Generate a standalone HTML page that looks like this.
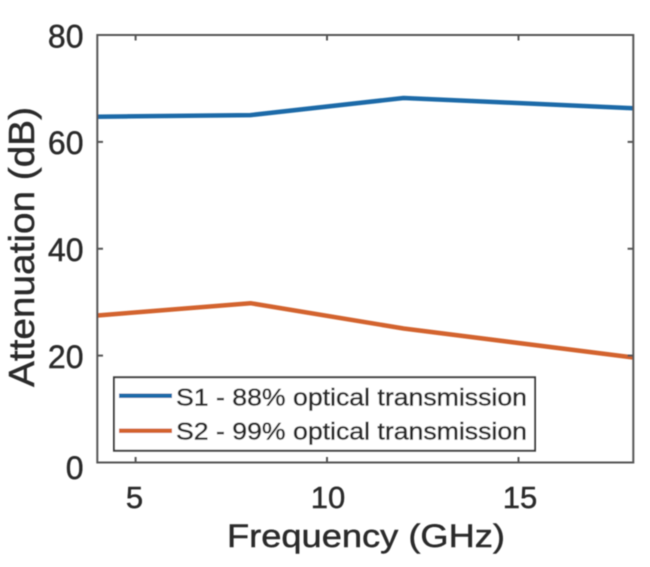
<!DOCTYPE html>
<html>
<head>
<meta charset="utf-8">
<style>
  html, body { margin: 0; padding: 0; background: #ffffff; }
  svg { display: block; }
  text { font-family: "Liberation Sans", Arial, sans-serif; fill: #2b2b2b; stroke: #2b2b2b; stroke-width: 0.45; }
</style>
</head>
<body>
<svg width="650" height="567" viewBox="0 0 650 567" xmlns="http://www.w3.org/2000/svg">
  <defs>
    <filter id="soft" x="-5%" y="-5%" width="110%" height="110%">
      <feGaussianBlur stdDeviation="0.6"/>
    </filter>
  </defs>
  <rect x="0" y="0" width="650" height="567" fill="#ffffff"/>
  <g filter="url(#soft)">
    <!-- series -->
    <polyline points="97.3,116.7 250.5,115.1 403.6,98.0 633.3,108.2" fill="none" stroke="#1f6aa8" stroke-width="4.5" stroke-linejoin="round"/>
    <polyline points="97.3,315.5 250.5,303.2 403.6,328.5 633.3,357.5" fill="none" stroke="#d3632f" stroke-width="4.5" stroke-linejoin="round"/>

    <!-- axes box -->
    <rect x="97.3" y="35" width="536" height="427.5" fill="none" stroke="#555555" stroke-width="2"/>

    <!-- ticks -->
    <g stroke="#555555" stroke-width="2">
      <line x1="97.3" y1="355.6" x2="103" y2="355.6"/>
      <line x1="97.3" y1="248.75" x2="103" y2="248.75"/>
      <line x1="97.3" y1="141.9" x2="103" y2="141.9"/>
      <line x1="633.3" y1="355.6" x2="627.6" y2="355.6"/>
      <line x1="633.3" y1="248.75" x2="627.6" y2="248.75"/>
      <line x1="633.3" y1="141.9" x2="627.6" y2="141.9"/>
      <line x1="135.6" y1="462.5" x2="135.6" y2="457"/>
      <line x1="327.0" y1="462.5" x2="327.0" y2="457"/>
      <line x1="518.5" y1="462.5" x2="518.5" y2="457"/>
      <line x1="135.6" y1="35" x2="135.6" y2="40.5"/>
      <line x1="327.0" y1="35" x2="327.0" y2="40.5"/>
      <line x1="518.5" y1="35" x2="518.5" y2="40.5"/>
    </g>

    <!-- y tick labels -->
    <g font-size="32" text-anchor="end">
      <text x="83.5" y="47.5">80</text>
      <text x="83.5" y="154">60</text>
      <text x="83.5" y="261">40</text>
      <text x="83.5" y="368">20</text>
      <text x="83.5" y="479">0</text>
    </g>

    <!-- x tick labels -->
    <g font-size="31" text-anchor="middle">
      <text x="134.5" y="508">5</text>
      <text x="328" y="508">10</text>
      <text x="520" y="508">15</text>
    </g>

    <!-- axis labels -->
    <text x="227" y="547" font-size="32" textLength="278" lengthAdjust="spacingAndGlyphs">Frequency (GHz)</text>
    <text transform="translate(34,387) rotate(-90)" x="0" y="0" font-size="36" textLength="280" lengthAdjust="spacingAndGlyphs">Attenuation (dB)</text>

    <!-- legend -->
    <rect x="114" y="377.3" width="421" height="73.4" fill="#ffffff" stroke="#3a3a3a" stroke-width="2"/>
    <line x1="119" y1="395.7" x2="172" y2="395.7" stroke="#1f6aa8" stroke-width="4.5"/>
    <line x1="119" y1="430.7" x2="172" y2="430.7" stroke="#d3632f" stroke-width="4.5"/>
    <text x="176" y="405.5" font-size="24" textLength="351" lengthAdjust="spacingAndGlyphs">S1 - 88% optical transmission</text>
    <text x="176" y="439.5" font-size="24" textLength="351" lengthAdjust="spacingAndGlyphs">S2 - 99% optical transmission</text>
  </g>
</svg>
</body>
</html>
